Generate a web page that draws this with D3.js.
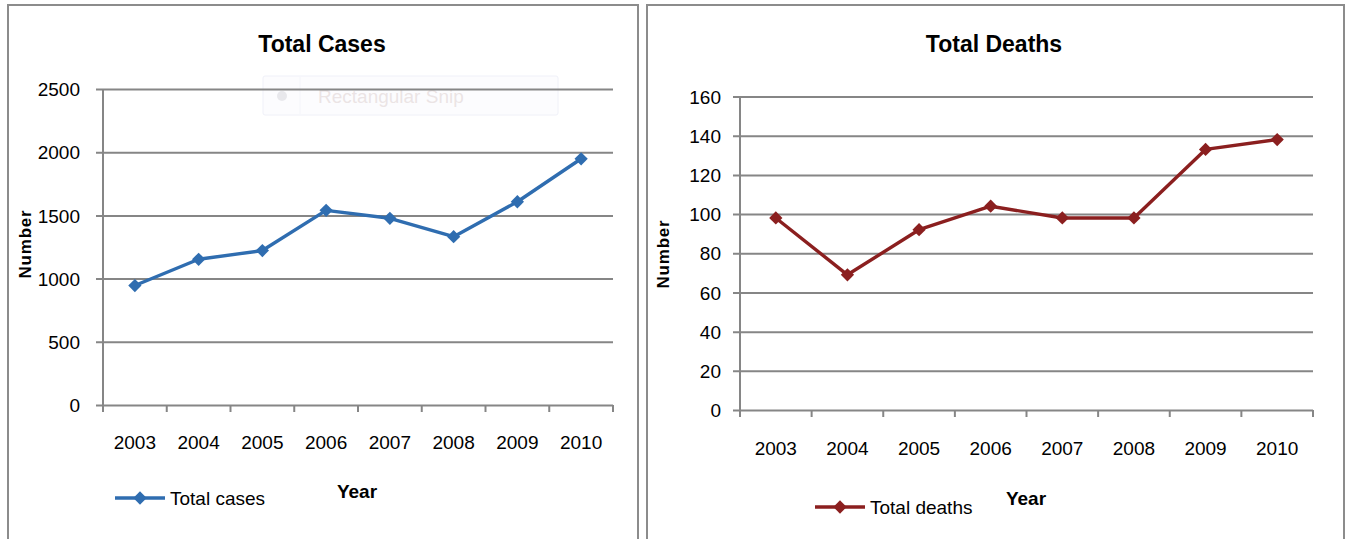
<!DOCTYPE html>
<html>
<head>
<meta charset="utf-8">
<script src="https://cdn.jsdelivr.net/npm/d3@7"></script>
<style>
  html, body { margin: 0; padding: 0; background: #fff; }
  svg { display: block; font-family: "Liberation Sans", Arial, sans-serif; }
</style>
</head>
<body>
<svg id="chart" width="1346" height="539"></svg>
<script>
// ---- data ----
const years = ["2003", "2004", "2005", "2006", "2007", "2008", "2009", "2010"];
const totalCases = [945, 1153, 1222, 1540, 1477, 1332, 1608, 1948];
const totalDeaths = [98, 69, 92, 104, 98, 98, 133, 138];
const casesTicks = [0, 500, 1000, 1500, 2000, 2500];
const deathsTicks = [0, 20, 40, 60, 80, 100, 120, 140, 160];

const svg = d3.select("#chart");

// panel borders
svg.append("rect").attr("x", 8).attr("y", 5).attr("width", 630).attr("height", 560)
  .attr("fill", "none").attr("stroke", "#8c8c8c").attr("stroke-width", 2);
svg.append("rect").attr("x", 647).attr("y", 5).attr("width", 697).attr("height", 560)
  .attr("fill", "none").attr("stroke", "#8c8c8c").attr("stroke-width", 2);

// faint "Rectangular Snip" screenshot overlay (left panel)
const snip = svg.append("g").attr("opacity", 0.55);
snip.append("rect").attr("x", 263).attr("y", 76).attr("width", 295).attr("height", 39).attr("rx", 2)
  .attr("fill", "#fbfbfe").attr("stroke", "#e4e6f4").attr("stroke-width", 1);
snip.append("line").attr("x1", 300).attr("x2", 300).attr("y1", 77).attr("y2", 114)
  .attr("stroke", "#eceef6");
snip.append("circle").attr("cx", 282).attr("cy", 96).attr("r", 5).attr("fill", "#d6d6de");
snip.append("text").attr("x", 318).attr("y", 103).attr("font-size", 19)
  .attr("fill", "#dccfd0").text("Rectangular Snip");

function drawChart(opt) {
  const g = svg.append("g");
  const x = d3.scaleBand().domain(years).range([opt.x0, opt.x1]).padding(0);
  const y = d3.scaleLinear().domain([0, d3.max(opt.ticks)]).range([opt.yBottom, opt.yTop]);

  // title
  g.append("text").attr("x", opt.titleX).attr("y", 52).attr("text-anchor", "middle")
    .attr("font-size", 23).attr("font-weight", "bold").attr("fill", "#000").text(opt.title);

  // gridlines + y ticks
  const yAxis = d3.axisLeft(y).tickValues(opt.ticks).tickSize(opt.x1 - opt.x0 + 7).tickPadding(0).tickFormat(d3.format("d"));
  const ya = g.append("g").attr("transform", `translate(${opt.x1},0)`).call(yAxis);
  ya.select(".domain").remove();
  ya.selectAll(".tick line").attr("stroke", "#868686").attr("stroke-width", 2);
  ya.selectAll(".tick text").attr("x", -(opt.x1 - opt.x0) - opt.labelGap)
    .attr("font-size", 19).attr("fill", "#000").attr("font-family", "Liberation Sans, Arial, sans-serif")
    .attr("dy", "0.35em");

  // y axis line
  g.append("line").attr("x1", opt.x0).attr("x2", opt.x0).attr("y1", y(d3.max(opt.ticks))).attr("y2", opt.yBottom + 6)
    .attr("stroke", "#868686").attr("stroke-width", 2);

  // x tick marks at band boundaries
  const bounds = years.map(d => x(d)).concat([x(years[years.length - 1]) + x.bandwidth()]);
  g.selectAll(".xtick").data(bounds).join("line")
    .attr("x1", d => d).attr("x2", d => d).attr("y1", opt.yBottom).attr("y2", opt.yBottom + 7)
    .attr("stroke", "#868686").attr("stroke-width", 2);

  // x labels
  g.selectAll(".xlab").data(years).join("text")
    .attr("x", d => x(d) + x.bandwidth() / 2).attr("y", opt.xLabelY).attr("text-anchor", "middle")
    .attr("font-size", 19).attr("fill", "#000").text(d => d);

  // axis titles
  g.append("text").attr("transform", `translate(${opt.numX},${opt.numY}) rotate(-90)`)
    .attr("text-anchor", "middle").attr("dy", "0.35em").attr("font-size", 17).attr("font-weight", "bold")
    .attr("letter-spacing", 0.8).attr("fill", "#000").text("Number");
  g.append("text").attr("x", opt.yearX).attr("y", opt.yearY).attr("text-anchor", "middle")
    .attr("font-size", 19).attr("font-weight", "bold").attr("fill", "#000").text("Year");

  // series
  const pts = years.map((d, i) => [x(d) + x.bandwidth() / 2, y(opt.values[i])]);
  g.append("path").attr("d", d3.line()(pts)).attr("fill", "none")
    .attr("stroke", opt.color).attr("stroke-width", 3.4).attr("stroke-linejoin", "round");
  const diamond = d3.symbol().type(d3.symbolSquare).size(88);
  g.selectAll(".pt").data(pts).join("path")
    .attr("transform", d => `translate(${d[0]},${d[1]}) rotate(45)`)
    .attr("d", diamond).attr("fill", opt.color);

  // legend
  g.append("line").attr("x1", opt.legX).attr("x2", opt.legX + 50).attr("y1", opt.legY).attr("y2", opt.legY)
    .attr("stroke", opt.color).attr("stroke-width", 3.4);
  g.append("path").attr("transform", `translate(${opt.legX + 25},${opt.legY}) rotate(45)`)
    .attr("d", diamond).attr("fill", opt.color);
  g.append("text").attr("x", opt.legX + 55).attr("y", opt.legY + 7).attr("font-size", 19)
    .attr("fill", "#000").text(opt.legend);
}

drawChart({
  title: "Total Cases", titleX: 322, values: totalCases, ticks: casesTicks,
  x0: 103, x1: 613, yTop: 89, yBottom: 405, labelGap: 23, xLabelY: 449,
  numX: 25, numY: 244, yearX: 357, yearY: 498,
  color: "#2f6db0", legX: 115, legY: 498, legend: "Total cases"
});

drawChart({
  title: "Total Deaths", titleX: 994, values: totalDeaths, ticks: deathsTicks,
  x0: 740, x1: 1313, yTop: 96.5, yBottom: 410, labelGap: 19, xLabelY: 455,
  numX: 663, numY: 254, yearX: 1026, yearY: 505,
  color: "#8b1f1f", legX: 815, legY: 507, legend: "Total deaths"
});
</script>
</body>
</html>
